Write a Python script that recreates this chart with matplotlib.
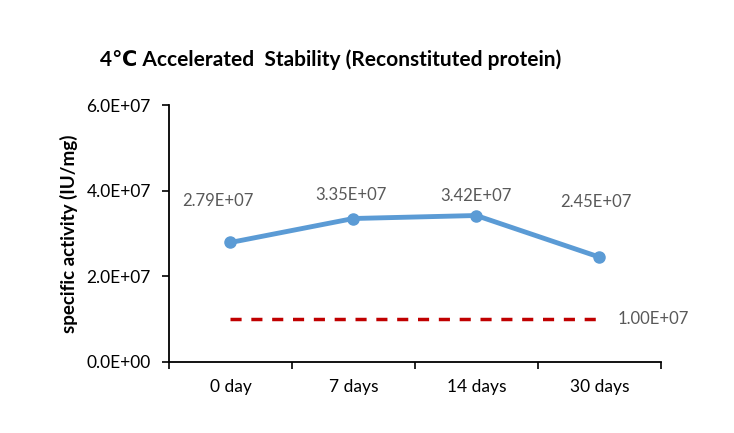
import matplotlib
matplotlib.use('Agg')
import matplotlib.pyplot as plt

# data
days = ['0 day', '7 days', '14 days', '30 days']
activity = [2.79e7, 3.35e7, 3.42e7, 2.45e7]
limit = 1.0e7
y_ticks = [0, 2e7, 4e7, 6e7]

# label offsets in pixels (hand placed like in the excel chart)
label_offsets = [(-13, 41), (-2, 24), (0, 20), (-3, 55)]

plt.rcParams['font.family'] = ['Lato', 'DejaVu Sans']

fig = plt.figure(figsize=(7.34, 4.33), dpi=100)
ax = fig.add_axes([0.2302, 0.164, 0.670, 0.5935])

xs = list(range(len(days)))
ax.plot(xs, activity, color='#5B9BD5', linewidth=3.5, marker='o', markersize=8, zorder=3)
ax.plot([xs[0], xs[-1]], [limit, limit], color='#C00000', linewidth=2.5,
        linestyle=(0, (3.2, 2.8)), zorder=2)

for x, v, off in zip(xs, activity, label_offsets):
    ax.annotate('%.2E' % v, (x, v), xytext=off, textcoords='offset pixels',
                ha='center', va='center', fontsize=12, color='#595959')
ax.annotate('%.2E' % limit, (xs[-1], limit), xytext=(54, 0), textcoords='offset pixels',
            ha='center', va='center', fontsize=12, color='#595959')

ax.set_xlim(-0.5, len(days) - 0.5)
ax.set_ylim(y_ticks[0], y_ticks[-1])
ax.set_yticks(y_ticks)
ax.set_yticklabels(['%.1E' % t for t in y_ticks])

ax.set_xticks([i - 0.5 for i in range(len(days) + 1)])
ax.set_xticklabels([])
ax.set_xticks(xs, minor=True)
ax.set_xticklabels(days, minor=True)
ax.tick_params(axis='x', which='minor', length=0, pad=12)
ax.tick_params(axis='x', which='major', length=5, direction='out', width=1.2)
ax.tick_params(axis='y', length=5, direction='out', width=1.2, pad=8)
for lab in ax.get_xticklabels(minor=True) + ax.get_yticklabels():
    lab.set_fontsize(12.5)
    lab.set_color('#000000')

ax.spines['top'].set_visible(False)
ax.spines['right'].set_visible(False)
ax.spines['left'].set_linewidth(1.3)
ax.spines['bottom'].set_linewidth(1.3)

ax.set_ylabel('specific activity (IU/mg)', fontsize=13.5, fontweight='bold', labelpad=6)
fig.text(0.45, 0.862, '4℃ Accelerated  Stability (Reconstituted protein)',
         ha='center', va='center', fontsize=15, fontweight='bold')

fig.savefig('out.png', dpi=100)
